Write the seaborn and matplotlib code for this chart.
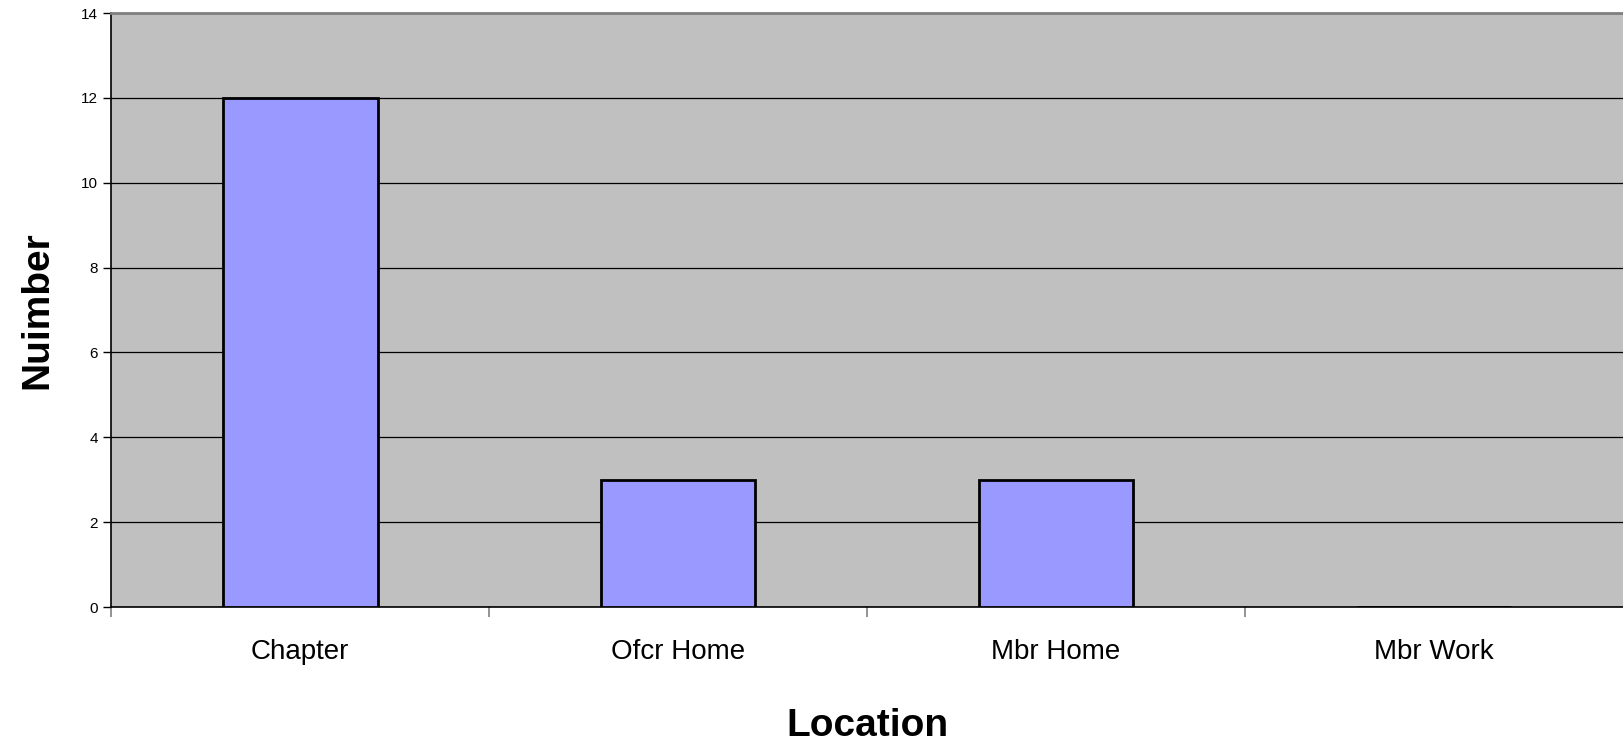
import pandas as pd
import numpy as np
import matplotlib.pyplot as plt
import seaborn as sns

locations = ['Chapter', 'Ofcr Home', 'Mbr Home', 'Mbr Work']
counts = [12, 3, 3, 0]

df = pd.DataFrame({'Location': locations, 'Nuimber': counts})

sns.set_style('white')
plt.rcParams['font.family'] = ['Liberation Sans', 'DejaVu Sans']
plt.rcParams['text.color'] = 'black'
plt.rcParams['axes.labelcolor'] = 'black'
plt.rcParams['xtick.color'] = 'black'
plt.rcParams['ytick.color'] = 'black'

fig = plt.figure(figsize=(16.23, 7.44), dpi=100)
ax = fig.add_axes([0.0684, 0.184, 0.9316, 0.7985])
ax.set_facecolor('#c0c0c0')

sns.barplot(data=df, x='Location', y='Nuimber', color='#9999ff', saturation=1,
            width=0.41, edgecolor='black', linewidth=2, ax=ax, zorder=3)

ax.set_xlim(-0.5, 3.5)
ax.set_ylim(0, 14)
ax.set_yticks(np.arange(0, 15, 2))
ax.yaxis.grid(True, color='black', linewidth=0.9)
ax.set_axisbelow(True)

# category boundary ticks like the original
ax.set_xticks([0, 1, 2, 3])
ax.set_xticks([-0.5, 0.5, 1.5, 2.5], minor=True)
ax.tick_params(axis='x', which='major', length=0, labelsize=20, pad=23)
ax.tick_params(axis='x', which='minor', bottom=True, length=7, color='#808080', width=1.2, direction='out')
ax.tick_params(axis='y', length=6, width=1, color='black', labelsize=11, direction='out', left=True)

for side in ['left', 'bottom']:
    ax.spines[side].set_color('black')
    ax.spines[side].set_linewidth(1.2)
ax.spines['top'].set_visible(True)
ax.spines['top'].set_color('#808080')
ax.spines['top'].set_linewidth(2)
ax.spines['right'].set_visible(False)

ax.set_xlabel('Location', fontsize=28, fontweight='bold', va='center')
ax.set_ylabel('Nuimber', fontsize=28, fontweight='bold', va='center')
ax.xaxis.set_label_coords(0.5, -0.2)
ax.yaxis.set_label_coords(-0.049, 0.5)

fig.savefig('out.png', dpi=100)
